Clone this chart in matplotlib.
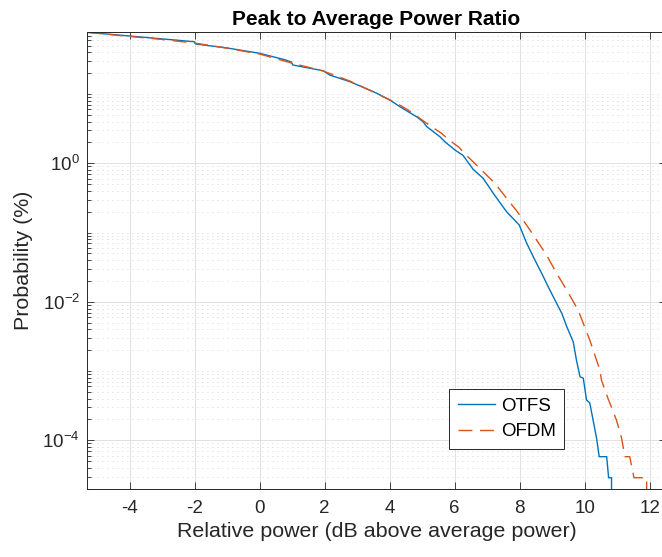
import numpy as np
import matplotlib.pyplot as plt
from matplotlib.ticker import LogLocator, FixedLocator, FuncFormatter, NullFormatter

plt.rcParams['font.family'] = ['Liberation Sans', 'DejaVu Sans']
plt.rcParams['axes.unicode_minus'] = False
plt.rcParams['mathtext.fontset'] = 'custom'
plt.rcParams['mathtext.rm'] = 'Liberation Sans'
plt.rcParams['mathtext.default'] = 'regular'

# PAPR CCDF: relative power (dB) vs probability (%)
otfs_db = [-5.31, -3.99, -2.01, -1.96, -1.02, 0.0, 0.78, 0.98, 1.02, 1.96, 2.16, 2.78,
           3.14, 3.60, 4.01, 4.32, 4.83, 5.03, 5.14, 5.55, 5.70, 6.01, 6.26, 6.57,
           6.88, 7.19, 7.60, 7.99, 8.22, 8.42, 8.68, 8.88, 9.14, 9.30, 9.45, 9.65,
           9.75, 9.86, 9.96, 10.06, 10.16, 10.37, 10.45, 10.68, 10.74, 10.83, 10.83]
otfs_pct = [78.0, 68.9, 57.0, 52.8, 46.5, 38.8, 31.3, 29.0, 26.3, 21.7, 18.8, 15.1,
            12.8, 10.3, 8.2, 6.56, 4.71, 3.99, 3.4, 2.42, 2.05, 1.56, 1.30, 0.82,
            0.607, 0.369, 0.20, 0.1285, 0.07, 0.0448, 0.0258, 0.01652, 0.0095, 0.0068,
            0.0044, 0.00265, 0.00144, 8.28e-4, 7.9e-4, 3.82e-4, 3.46e-4, 1.07e-4, 5.8e-5,
            5.8e-5, 2.88e-5, 2.88e-5, 1e-7]

ofdm_db = [-5.31, -3.99, -3.0, -2.01, -1.0, 0.0, 0.98, 1.96, 2.78, 3.60, 4.22, 4.57,
           5.29, 5.60, 5.83, 6.14, 6.32, 6.62, 7.24, 7.93, 8.32, 8.83, 9.14, 9.45,
           9.80, 10.16, 10.47, 10.52, 10.70, 10.98, 11.14, 11.24, 11.39, 11.52, 11.91,
           11.91]
ofdm_pct = [78.0, 67.8, 61.5, 54.6, 46.0, 37.9, 28.1, 21.5, 15.4, 10.2, 7.35, 5.89,
            3.38, 2.71, 2.17, 1.70, 1.36, 1.0, 0.514, 0.200, 0.1088, 0.0474, 0.0258,
            0.0148, 0.00762, 0.00281, 0.001035, 7.4e-4, 4.27e-4, 1.96e-4, 1.07e-4,
            5.8e-5, 5.8e-5, 2.88e-5, 2.88e-5, 1e-7]

x_ticks = [-4, -2, 0, 2, 4, 6, 8, 10, 12]
y_ticks = [1e-4, 1e-2, 1e0]

txt = '#262626'

fig = plt.figure(figsize=(6.62, 5.57), dpi=100)
# axes runs a few pixels past the right edge, as in the original
ax = fig.add_axes([87 / 662, 1 - 488.7 / 557, 579 / 662, (488.7 - 32.3) / 557])

ax.semilogy(otfs_db, otfs_pct, color='#0072BD', lw=1.0, label='OTFS')
ax.semilogy(ofdm_db, ofdm_pct, color='#D95319', lw=1.0, dashes=(10, 5.5), label='OFDM')

ax.set_xlim(-5.31, -5.31 + 579 / 32.5)
ax.set_ylim(2.0e-5, 78)

ax.xaxis.set_major_locator(FixedLocator(x_ticks))
ax.yaxis.set_major_locator(FixedLocator(y_ticks))
ax.yaxis.set_minor_locator(LogLocator(base=10, subs=np.arange(1, 10), numticks=50))
ax.yaxis.set_minor_formatter(NullFormatter())
ax.yaxis.set_major_formatter(FuncFormatter(lambda v, p: r'$10^{%d}$' % round(np.log10(v))))

ax.grid(True, which='major', color='#dcdcdc', lw=0.6, ls='-')
ax.grid(True, which='minor', axis='y', color='#c4c4c4', lw=0.6, ls=(0, (1, 5)))
ax.set_axisbelow(True)

ax.tick_params(which='both', direction='in', top=True, right=True, colors=txt,
               labelsize=13.5, width=0.6)
ax.tick_params(which='major', length=5)
ax.tick_params(which='minor', length=3)
ax.tick_params(axis='x', pad=8)
ax.tick_params(axis='y', pad=5)
for s in ax.spines.values():
    s.set_color(txt)
    s.set_linewidth(0.7)

ax.set_xlabel('Relative power (dB above average power)', fontsize=15.4, color=txt, labelpad=4)
ax.set_ylabel('Probability (%)', fontsize=15.4, color=txt, labelpad=7)
ax.set_title('Peak to Average Power Ratio', fontsize=15, fontweight='bold', pad=5)

leg = ax.legend(loc='upper left', bbox_to_anchor=(0.6256, 0.2178), borderaxespad=0,
                fontsize=13.5, fancybox=False, framealpha=1, edgecolor=txt,
                handlelength=2.0, handletextpad=0.3, borderpad=0.45, labelspacing=0.45)
leg.get_frame().set_linewidth(0.7)

fig.savefig('out.png', dpi=100)
